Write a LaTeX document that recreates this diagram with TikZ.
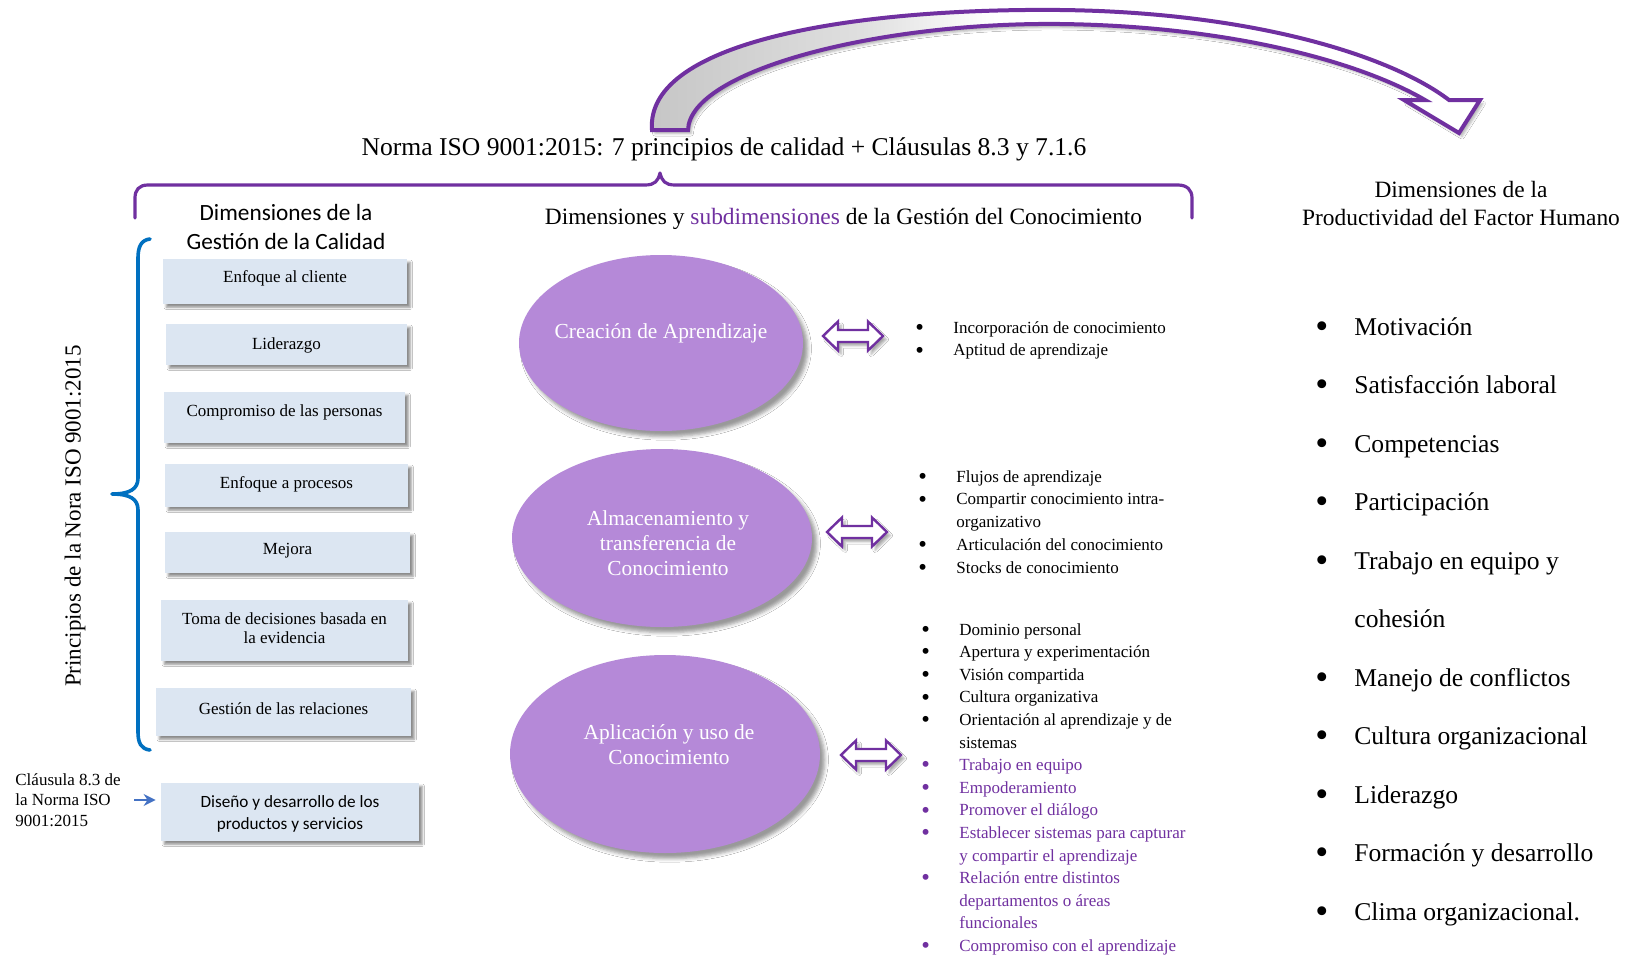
\documentclass[tikz,border=0pt]{standalone}
\usepackage{fontspec}
\setmainfont{Liberation Serif}
\newfontfamily\calibrifont{Carlito}
\usetikzlibrary{shapes.geometric,shadows.blur,arrows.meta}

\definecolor{isopurple}{HTML}{7030A0}
\definecolor{ellfill}{HTML}{B589D8}
\definecolor{boxblue}{HTML}{DCE6F2}
\definecolor{braceblue}{HTML}{0070C0}
\definecolor{pointerblue}{HTML}{4472C4}

% grey underside of the curved arrow fading to white along the arc
\pgfdeclarehorizontalshading{arrowshade}{100bp}{color(0bp)=(gray!45); color(25bp)=(gray!45); color(38bp)=(gray!25); color(46bp)=(white); color(100bp)=(white)}

% a list bullet of the size used in word-processor lists
\newcommand\blt{\raisebox{-0.13em}{\scalebox{1.45}{\textbullet}}}
\newcommand\pblt{\textcolor{isopurple}{\blt}}

\begin{document}
\begin{tikzpicture}[x=0.5pt,y=-0.5pt,
  qbox/.style={rectangle, fill=boxblue, inner sep=0pt,
    blur shadow={shadow xshift=1.6pt, shadow yshift=-1.6pt, shadow blur radius=1.1pt, shadow opacity=45}},
  boxtext/.style={inner sep=0pt, align=center, font=\fontsize{8.5}{9.8}\selectfont},
  ell/.style={ellipse, fill=ellfill, inner sep=0pt,
    blur shadow={shadow xshift=2.4pt, shadow yshift=-2.8pt, shadow blur radius=1.8pt, shadow opacity=40}},
  elltext/.style={text=white, align=center, inner sep=0pt, font=\fontsize{10.7}{12.5}\selectfont},
  dblarr/.style={draw=isopurple, line width=1.2pt, fill=white, line join=miter,
    blur shadow={shadow xshift=1.6pt, shadow yshift=-1.8pt, shadow blur radius=1.2pt, shadow opacity=35}},
  smalllist/.style={inner sep=0pt, anchor=base west, font=\fontsize{8.5}{11.45}\selectfont},
  biglist/.style={inner sep=0pt, anchor=base west, font=\fontsize{12.8}{29.25}\selectfont},
  header/.style={inner sep=0pt, align=center, font=\fontsize{11.7}{14}\selectfont},
  purplebrace/.style={draw=isopurple, line width=1.6pt, line cap=round, line join=round},
  bluebrace/.style={draw=braceblue, line width=1.8pt, line cap=round, line join=round},
  toparrow/.style={shade, shading=arrowshade, draw=isopurple, line width=2pt, line join=miter,
    blur shadow={shadow xshift=1.5pt, shadow yshift=-1.8pt, shadow blur radius=1.2pt, shadow opacity=30}},
  pointer/.style={draw=pointerblue, line width=0.8pt, -{Stealth[length=6pt,width=6pt]}}
]
\path[fill=white] (0,0) rectangle (1628,959);
\useasboundingbox (0,0) rectangle (1628,959);

% curved block arrow over the title
\path[toparrow] (652,130) .. controls (645,40) and (860,8) .. (1060,10)
  .. controls (1250,12) and (1390,55) .. (1449,100)
  -- (1480,100) -- (1459,133) -- (1404,100) -- (1425,100)
  .. controls (1360,62) and (1230,26) .. (1060,24)
  .. controls (880,22) and (690,70) .. (688,130) -- cycle;

% title and the purple brace below it
\node[inner sep=0pt, font=\fontsize{12.8}{15}\selectfont] (title) at (724,149)
  {Norma ISO 9001:2015: 7 principios de calidad + Cláusulas 8.3 y 7.1.6};
\draw[purplebrace] (135,218) -- (135,198) .. controls (135,190) and (139,185) .. (148,185)
  -- (645,185) .. controls (655,185) and (658,181) .. (660,173)
  .. controls (662,181) and (665,185) .. (675,185)
  -- (1178,185) .. controls (1187,185) and (1192,190) .. (1192,198) -- (1192,218);

% column headers
\node[inner sep=0pt, align=center, font=\calibrifont\fontsize{11.65}{14.5}\selectfont] (hgc) at (286,226.5)
  {Dimensiones de la\\Gestión de la Calidad};
\node[header] (hgk) at (843.5,219)
  {Dimensiones y \textcolor{isopurple}{subdimensiones} de la Gestión del Conocimiento};
\node[header] (hfh) at (1461,203) {Dimensiones de la\\Productividad del Factor Humano};

% blue brace and its vertical label
\draw[bluebrace] (150,239) .. controls (141,240) and (138,247) .. (138,258) -- (138,478)
  .. controls (138,489) and (130,494) .. (112,494)
  .. controls (130,494) and (138,499) .. (138,510) -- (138,732)
  .. controls (138,743) and (141,749) .. (150,750);
\node[inner sep=0pt, rotate=90, font=\fontsize{11.5}{13}\selectfont] (vlab) at (75,516)
  {Principios de la Nora ISO 9001:2015};

% quality principles
\node[qbox, minimum width=122pt, minimum height=22.5pt] (b1) at (285,281.5) {};
\node[boxtext] (t1) at (285,278) {Enfoque al cliente};
\node[qbox, minimum width=120.5pt, minimum height=20.5pt] (b2) at (286.5,344.5) {};
\node[boxtext] (t2) at (286.5,345) {Liderazgo};
\node[qbox, minimum width=120.5pt, minimum height=25.5pt] (b3) at (284.5,417.5) {};
\node[boxtext] (t3) at (284.5,412) {Compromiso de las personas};
\node[qbox, minimum width=121.5pt, minimum height=21.5pt] (b4) at (286.5,485.5) {};
\node[boxtext] (t4) at (286.5,484) {Enfoque a procesos};
\node[qbox, minimum width=122.5pt, minimum height=20.5pt] (b5) at (287.5,552.5) {};
\node[boxtext] (t5) at (287.5,551) {Mejora};
\node[qbox, minimum width=123.5pt, minimum height=30.5pt] (b6) at (284.5,630.5) {};
\node[boxtext] (t6) at (284.5,628) {Toma de decisiones basada en\\la evidencia};
\node[qbox, minimum width=127.5pt, minimum height=24pt] (b7) at (283.5,712) {};
\node[boxtext] (t7) at (283.5,709) {Gestión de las relaciones};
\node[qbox, minimum width=129pt, minimum height=29pt] (b8) at (290,812) {};
\node[inner sep=0pt, align=center, font=\calibrifont\fontsize{8.6}{11}\selectfont] (t8) at (290,814)
  {Diseño y desarrollo de los\\productos y servicios};

% clause 8.3 pointer
\node[inner sep=0pt, anchor=west, align=left, font=\fontsize{8.5}{10.3}\selectfont] (cl) at (15,800)
  {Cláusula 8.3 de\\la Norma ISO\\9001:2015};
\draw[pointer, shorten <=6.5pt, shorten >=2.5pt] (cl.east) -- (cl.east -| b8.west);

% knowledge management dimensions
\node[ell, minimum width=142pt, minimum height=88pt] (e1) at (661,343) {};
\node[elltext] (e1t) at (661,333) {Creación de Aprendizaje};
\node[ell, minimum width=150pt, minimum height=89pt] (e2) at (662,538) {};
\node[elltext] (e2t) at (668,543) {Almacenamiento y\\transferencia de\\Conocimiento};
\node[ell, minimum width=155pt, minimum height=99pt] (e3) at (665,754) {};
\node[elltext] (e3t) at (669,745) {Aplicación y uso de\\Conocimiento};

% two-headed block arrows
\coordinate (a1) at (853,336);
\coordinate (a2) at (857,532);
\coordinate (a3) at (871,755);
\foreach \c in {a1,a2,a3}{
  \draw[dblarr] ([xshift=-15pt]\c) -- ++(15,-14.5) -- ++(0,8.5) -- ++(30,0) -- ++(0,-8.5)
    -- ++(15,14.5) -- ++(-15,14.5) -- ++(0,-8.5) -- ++(-30,0) -- ++(0,8.5) -- cycle;
}

% sub-dimension lists
\node[smalllist] (l1) at (915,333) {\begin{tabular}[t]{@{}p{19pt}@{}l@{}}
\blt & Incorporación de conocimiento\\
\blt & Aptitud de aprendizaje
\end{tabular}};
\node[smalllist] (l2) at (918,482) {\begin{tabular}[t]{@{}p{19pt}@{}l@{}}
\blt & Flujos de aprendizaje\\
\blt & Compartir conocimiento intra-\\
 & organizativo\\
\blt & Articulación del conocimiento\\
\blt & Stocks de conocimiento
\end{tabular}};
\node[smalllist, font=\fontsize{8.5}{11.3}\selectfont] (l3) at (921,635) {\begin{tabular}[t]{@{}p{19pt}@{}l@{}}
\blt & Dominio personal\\
\blt & Apertura y experimentación\\
\blt & Visión compartida\\
\blt & Cultura organizativa\\
\blt & Orientación al aprendizaje y de\\
 & sistemas\\
\pblt & \textcolor{isopurple}{Trabajo en equipo}\\
\pblt & \textcolor{isopurple}{Empoderamiento}\\
\pblt & \textcolor{isopurple}{Promover el diálogo}\\
\pblt & \textcolor{isopurple}{Establecer sistemas para capturar}\\
 & \textcolor{isopurple}{y compartir el aprendizaje}\\
\pblt & \textcolor{isopurple}{Relación entre distintos}\\
 & \textcolor{isopurple}{departamentos o áreas}\\
 & \textcolor{isopurple}{funcionales}\\
\pblt & \textcolor{isopurple}{Compromiso con el aprendizaje}
\end{tabular}};

% human factor productivity dimensions
\node[biglist] (l4) at (1315,335) {\begin{tabular}[t]{@{}p{19.5pt}@{}l@{}}
\blt & Motivación\\
\blt & Satisfacción laboral\\
\blt & Competencias\\
\blt & Participación\\
\blt & Trabajo en equipo y\\
 & cohesión\\
\blt & Manejo de conflictos\\
\blt & Cultura organizacional\\
\blt & Liderazgo\\
\blt & Formación y desarrollo\\
\blt & Clima organizacional.
\end{tabular}};
\end{tikzpicture}
\end{document}
